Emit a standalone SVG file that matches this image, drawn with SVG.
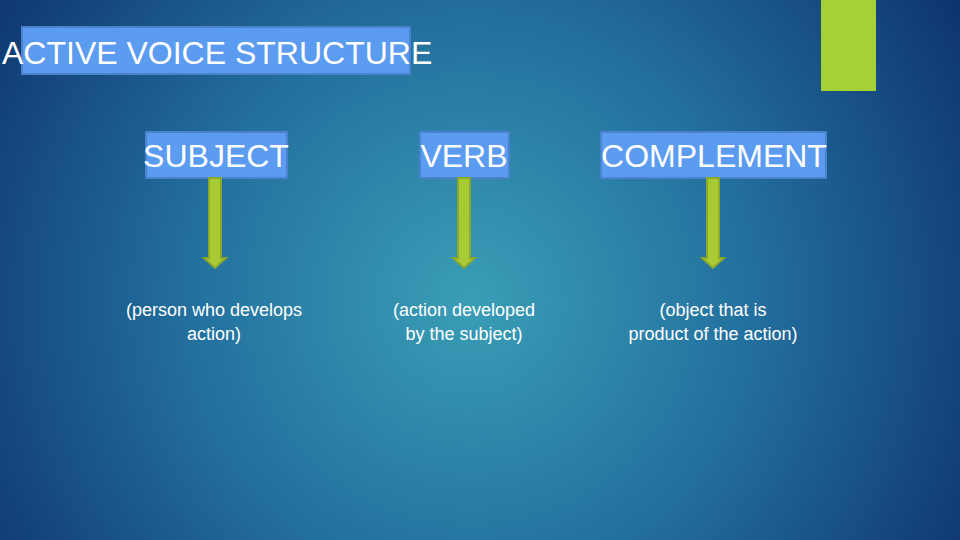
<svg xmlns="http://www.w3.org/2000/svg" width="960" height="540" viewBox="0 0 960 540">
<defs>
<radialGradient id="bg" cx="470" cy="300" r="620" gradientUnits="userSpaceOnUse">
<stop offset="0" stop-color="#3a9eb6"/>
<stop offset="0.45" stop-color="#23709e"/>
<stop offset="1" stop-color="#0b2a68"/>
</radialGradient>
<style>
.box{fill:#5b9bf0;stroke:#4a82d0;stroke-width:2}
.t{font-family:"Liberation Sans",Arial,sans-serif;fill:#fff;font-size:32px}
.d{font-family:"Liberation Sans",Arial,sans-serif;fill:#fff;font-size:18px;text-anchor:middle}
.arr{fill:#a8cb35;stroke:#8aa82a;stroke-width:2}
</style>
<path id="a" d="M-6,0 H6 V80 H11 L0,90 L-11,80 H-6 Z"/>
</defs>
<rect width="960" height="540" fill="url(#bg)"/>
<rect x="821" y="0" width="55" height="91" fill="#a6d038"/>
<g id="title"><rect class="box" x="22" y="27" width="388" height="47"/><text class="t" x="2" y="64">ACTIVE VOICE STRUCTURE</text></g>
<g id="subject"><rect class="box" x="146" y="132" width="141" height="46"/><text class="t" x="216" y="167" text-anchor="middle">SUBJECT</text></g>
<g id="verb"><rect class="box" x="420" y="132" width="89" height="46"/><text class="t" x="464" y="167" text-anchor="middle">VERB</text></g>
<g id="complement"><rect class="box" x="601" y="132" width="225" height="46"/><text class="t" x="714" y="167" text-anchor="middle">COMPLEMENT</text></g>
<g id="connectors">
<use href="#a" class="arr" x="215" y="178"/>
<use href="#a" class="arr" x="464" y="178"/>
<use href="#a" class="arr" x="713" y="178"/>
</g>
<g id="desc1"><text class="d" x="214" y="316">(person who develops</text><text class="d" x="214" y="340">action)</text></g>
<g id="desc2"><text class="d" x="464" y="316">(action developed</text><text class="d" x="464" y="340">by the subject)</text></g>
<g id="desc3"><text class="d" x="713" y="316">(object that is</text><text class="d" x="713" y="340">product of the action)</text></g>
</svg>
